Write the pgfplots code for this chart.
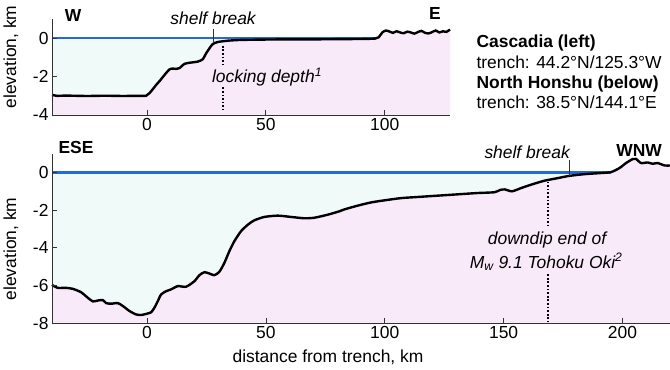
\documentclass[border=0pt]{standalone}
\usepackage{fontspec}
\setmainfont{Liberation Sans}
\usepackage{pgfplots}
\usepackage{pgfplotstable}
\pgfplotsset{compat=1.18}
\definecolor{sea}{RGB}{240,250,248}
\definecolor{land}{RGB}{248,234,249}
\definecolor{water}{RGB}{35,105,215}
\definecolor{axgray}{RGB}{50,50,50}

\pgfplotstableread{
x y
-40 -2.95
-38 -3.0
-34 -2.99
-30 -3.0
-25 -3.01
-20 -3.0
-15 -3.0
-10 -3.01
-5 -3.0
-0.4 -3.0
1.0 -2.87
3.8 -2.44
5.5 -2.2
7.3 -1.92
9.4 -1.63
10.8 -1.58
12.2 -1.6
13.6 -1.56
15.7 -1.34
17.8 -1.28
21.3 -1.22
23.4 -1.1
24.8 -0.8
26.2 -0.54
27.6 -0.31
29.7 -0.2
34 -0.13
39.5 -0.09
50 -0.07
60 -0.06
70 -0.06
80 -0.05
90 -0.04
96 -0.02
97.5 0.05
99 0.3
100.5 0.4
102 0.35
103.5 0.28
105 0.36
106.5 0.3
108 0.26
109.5 0.34
111 0.3
112.5 0.24
114 0.32
115.5 0.38
117 0.28
118.5 0.25
120 0.32
121.5 0.4
123 0.3
124.5 0.36
126 0.33
127.5 0.45
}\cascadia

\pgfplotstableread{
x y
-40 -5.96
-37.6 -6.12
-34.1 -6.12
-31.3 -6.17
-27.8 -6.35
-24.9 -6.65
-22.8 -6.84
-20.7 -6.79
-18.6 -6.77
-17.2 -6.93
-15.1 -6.96
-12.3 -6.93
-10.2 -7.08
-7.4 -7.35
-4.6 -7.53
-2.5 -7.56
0.3 -7.48
1.7 -7.42
3.1 -7.17
4.5 -6.83
5.9 -6.47
8 -6.3
10.1 -6.2
12.9 -6.03
16.4 -6.06
19.9 -5.77
22 -5.45
24.1 -5.29
26.2 -5.36
28.3 -5.45
30.4 -5.27
32.5 -4.8
34.6 -4.18
36.7 -3.65
39.5 -3.12
42.4 -2.77
45.1 -2.54
49.3 -2.36
55 -2.29
60.6 -2.36
66.2 -2.43
70.4 -2.4
76 -2.24
80.9 -2.06
83 -1.96
88.6 -1.76
94.2 -1.59
99.8 -1.48
106.9 -1.36
113.9 -1.3
122.3 -1.23
130.7 -1.16
139.1 -1.09
146.1 -1.05
148.5 -0.93
150.5 -0.9
153.5 -1.0
157.3 -0.83
161.5 -0.65
167.1 -0.44
172.8 -0.3
177.7 -0.18
184 -0.09
191 -0.03
195.2 0.02
198.7 0.23
201.5 0.5
204.3 0.71
205.7 0.72
207.8 0.5
210.6 0.53
212.7 0.46
214.8 0.5
217.7 0.37
220 0.37
}\honshu

\pgfplotsset{
  myax/.style={
    scale only axis,
    axis x line=bottom, axis y line=left,
    axis line style={-, draw=axgray, line width=0.8bp},
    tick style={draw=axgray, line width=0.8bp},
    major tick length=5bp, tick align=inside,
    axis on top, clip=false,
    /pgf/number format/assume math mode=true,
    tick label style={font=\fontsize{17.5}{21}\selectfont},
    label style={font=\fontsize{17.5}{21}\selectfont},
  },
  dots/.style={black, line width=2.1bp, dash pattern=on 1.7bp off 1.9bp},
}

\begin{document}
\begin{tikzpicture}[font=\fontsize{17.5}{21}\selectfont]
\useasboundingbox (0bp,0bp) rectangle (670bp,-370bp);

% ---------- Cascadia ----------
\begin{axis}[myax, at={(52bp,-19bp)}, anchor=north west,
  width=398bp, height=96bp,
  xmin=-40, xmax=127.5, ymin=-4, ymax=1,
  xtick={0,50,100}, ytick={-4,-2,0},
  ylabel={elevation, km},
  ylabel style={at={(axis description cs:-0.103,0.604)}, anchor=center}]
\addplot[draw=none, fill=sea] coordinates {(-40,-4) (127.5,-4) (127.5,0) (-40,0)} -- cycle;
\addplot[draw=none, fill=land, smooth, tension=0.4] table {\cascadia} -- (axis cs:127.5,-4) -- (axis cs:-40,-4) -- cycle;
\addplot[water, line width=2.2bp] coordinates {(-40,0) (97,0)};
\addplot[black, line width=2.4bp, smooth, tension=0.4] table {\cascadia};
\addplot[dots] coordinates {(31.8,-0.4) (31.8,-1.4)};
\addplot[dots] coordinates {(31.8,-2.56) (31.8,-3.74)};
\addplot[axgray, line width=0.8bp] coordinates {(27.9,0.5) (27.9,-0.25)};
\node[font=\fontsize{17.5}{21}\selectfont\bfseries] at (axis cs:-31.1,1.16) {W};
\node[font=\fontsize{17.5}{21}\selectfont\bfseries] at (axis cs:121.2,1.27) {E};
\node[font=\fontsize{17.5}{21}\selectfont\itshape] at (axis cs:27.8,1.06) {shelf break};
\node[font=\fontsize{17.5}{21}\selectfont\itshape] at (axis cs:50.5,-2.02) {locking depth\textsuperscript{1}};
\end{axis}

% ---------- North Honshu ----------
\begin{axis}[myax, at={(52bp,-153.6bp)}, anchor=north west,
  width=618bp, height=169.7bp,
  xmin=-40, xmax=220, ymin=-8, ymax=1,
  xtick={0,50,100,150,200}, ytick={-8,-6,-4,-2,0},
  ylabel={elevation, km},
  ylabel style={at={(axis description cs:-0.0663,0.438)}, anchor=center},
  xlabel={distance from trench, km},
  xlabel style={at={(axis description cs:0.4466,-0.199)}, anchor=center}]
\addplot[draw=none, fill=sea] coordinates {(-40,-8) (220,-8) (220,0) (-40,0)} -- cycle;
\addplot[draw=none, fill=land, smooth, tension=0.4] table {\honshu} -- (axis cs:220,-8) -- (axis cs:-40,-8) -- cycle;
\addplot[water, line width=2.2bp] coordinates {(-40,0) (195,0)};
\addplot[black, line width=2.4bp, smooth, tension=0.4] table {\honshu};
\addplot[dots] coordinates {(168.5,-0.48) (168.5,-2.9)};
\addplot[dots] coordinates {(168.5,-5.4) (168.5,-7.9)};
\addplot[axgray, line width=0.8bp] coordinates {(177.7,0.67) (177.7,-0.17)};
\node[font=\fontsize{17.5}{21}\selectfont\bfseries] at (axis cs:-29.9,1.3) {ESE};
\node[font=\fontsize{17.5}{21}\selectfont\bfseries] at (axis cs:207,1.19) {WNW};
\node[font=\fontsize{17.5}{21}\selectfont\itshape] at (axis cs:159.9,1.09) {shelf break};
\node[font=\fontsize{17.5}{21}\selectfont\itshape] at (axis cs:168.3,-3.58) {downdip end of};
\node[font=\fontsize{17.5}{21}\selectfont\itshape] at (axis cs:167.9,-4.75) {M\textsubscript{w} 9.1 Tohoku Oki\textsuperscript{2}};
\end{axis}

% ---------- side text ----------
\node[anchor=base west, font=\fontsize{17.5}{21}\selectfont\bfseries] at (473bp,-47bp) {Cascadia (left)};
\node[anchor=base west] at (473bp,-68bp) {trench: 44.2°N/125.3°W};
\node[anchor=base west, font=\fontsize{17.5}{21}\selectfont\bfseries] at (473bp,-88bp) {North Honshu (below)};
\node[anchor=base west] at (473bp,-108bp) {trench: 38.5°N/144.1°E};
\end{tikzpicture}
\end{document}
